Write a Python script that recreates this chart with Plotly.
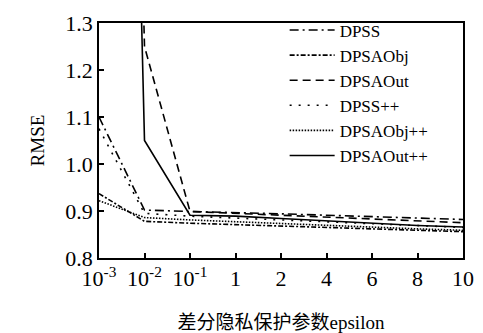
import plotly.graph_objects as go

# epsilon values (categorical positions)
eps_labels = ["10<sup>-3</sup>", "10<sup>-2</sup>", "10<sup>-1</sup>", "1", "2", "4", "6", "8", "10"]
x_pos = list(range(len(eps_labels)))

dpss = [1.10, 0.902, 0.899, 0.897, 0.894, 0.891, 0.888, 0.885, 0.882]
dpsaobj = [0.937, 0.878, 0.874, 0.871, 0.868, 0.865, 0.862, 0.859, 0.856]
dpsaout = [5.0, 1.25, 0.899, 0.895, 0.891, 0.887, 0.883, 0.879, 0.875]
dpss_pp = [1.075, 0.895, 0.889, 0.885, 0.881, 0.877, 0.873, 0.869, 0.865]
dpsaobj_pp = [0.922, 0.886, 0.881, 0.877, 0.873, 0.869, 0.865, 0.862, 0.859]
dpsaout_pp = [5.0, 1.05, 0.891, 0.889, 0.884, 0.879, 0.874, 0.869, 0.866]

series = [
    ("DPSS", dpss, "9px,4px,2px,4px"),
    ("DPSAObj", dpsaobj, "5px,2px,2px,2px"),
    ("DPSAOut", dpsaout, "8px,5px"),
    ("DPSS++", dpss_pp, "2px,7px"),
    ("DPSAObj++", dpsaobj_pp, "1.5px,1.5px"),
    ("DPSAOut++", dpsaout_pp, "solid"),
]

fig = go.Figure()
for name, ys, dash in series:
    fig.add_trace(go.Scatter(
        x=x_pos, y=ys, name=name, mode="lines",
        line=dict(color="black", width=1.6, dash=dash),
    ))

serif = "Liberation Serif"
axis_common = dict(
    showline=True, linecolor="black", linewidth=1.6, mirror=True,
    ticks="inside", ticklen=5, tickwidth=1.6, tickcolor="black",
    showgrid=False, zeroline=False, automargin=False,
    tickfont=dict(family=serif, size=22, color="black"),
)

fig.update_layout(
    width=483, height=333,
    margin=dict(l=99, r=20, t=20, b=75),
    paper_bgcolor="white", plot_bgcolor="white",
    font=dict(family=serif, color="black"),
    showlegend=True,
    legend=dict(
        x=0.51, y=1.045, xanchor="left", yanchor="top",
        bgcolor="rgba(0,0,0,0)", borderwidth=0,
        font=dict(family=serif, size=17, color="black"),
        itemwidth=45,
        maxheight=300,
    ),
    xaxis=dict(
        range=[0, 8], tickvals=x_pos, ticktext=eps_labels,
        title=dict(text="差分隐私保护参数epsilon",
                   font=dict(family="Liberation Serif, Noto Sans CJK SC", size=19, color="black"),
                   standoff=30),
        **axis_common,
    ),
    yaxis=dict(
        range=[0.8, 1.3], tickvals=[0.8, 0.9, 1.0, 1.1, 1.2, 1.3], tickformat=".1f",
        title=dict(text="RMSE", font=dict(family=serif, size=19, color="black"), standoff=16),
        **axis_common,
    ),
)

fig.write_html(
    "out.html",
    config={"displayModeBar": False},
    post_script="document.body.style.margin='0';document.body.style.overflow='hidden';",
)
